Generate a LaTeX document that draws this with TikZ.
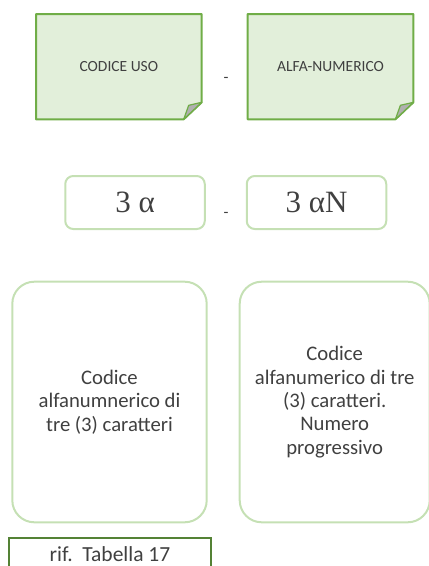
\documentclass[tikz,border=0pt]{standalone}
\usepackage{fontspec}
\setmainfont{Carlito}
\newfontfamily\greekfont{Liberation Serif}
\usetikzlibrary{calc, positioning, backgrounds}
\definecolor{leafgreen}{HTML}{70AD47}
\definecolor{leaffill}{HTML}{E2EFDA}
\definecolor{palegreen}{HTML}{C5E0B4}
\definecolor{darkgreen}{HTML}{548235}
\definecolor{inkgray}{HTML}{404040}
\definecolor{foldgray}{HTML}{B0B0B0}
\tikzstyle{notebox} = [rectangle, minimum width=165.7pt, minimum height=105.3pt, outer sep=0pt, text=inkgray, font=\fontsize{15.5}{18}\selectfont]
\tikzstyle{noteline} = [draw=leafgreen, fill=leaffill, line width=2pt, line join=round]
\tikzstyle{foldline} = [draw=leafgreen, fill=foldgray, line width=1.2pt, line join=round]
\tikzstyle{codebox} = [rectangle, draw=palegreen, line width=2pt, rounded corners=8pt, minimum width=139.5pt, minimum height=53pt, text=inkgray, font=\greekfont\fontsize{31}{34}\selectfont]
\tikzstyle{infobox} = [rectangle, draw=palegreen, line width=2pt, rounded corners=22pt, minimum height=240.6pt, align=center, text=inkgray, font=\fontsize{20.7}{23.4}\selectfont]
\tikzstyle{refbox} = [rectangle, draw=darkgreen, line width=2pt, minimum width=202pt, inner ysep=9pt, text depth=14pt, text=inkgray, font=\fontsize{21.5}{26}\selectfont]
\tikzstyle{sep} = [text=inkgray, inner sep=0pt, font=\fontsize{16}{18}\selectfont]
% folded-corner note drawn round a node
\newcommand{\dogear}[1]{%
  \path[noteline] (#1.north west) -- (#1.north east) -- ([yshift=17pt]#1.south east)
    -- ([xshift=-18pt]#1.south east) -- (#1.south west) -- cycle;
  \path[foldline] ([xshift=-18pt]#1.south east) -- ([xshift=-13pt,yshift=14pt]#1.south east)
    -- ([yshift=17pt]#1.south east) -- cycle;}

\begin{document}
\begin{tikzpicture}[x=1pt, y=-1pt, node distance=40pt, on grid=false]
\clip (0,0) rectangle (429,566);
% top row
\node [notebox] (uso) at (118.85,66.65) {CODICE USO};
\node [notebox, right=46pt of uso] (alfanum) {ALFA-NUMERICO};
\node [sep] (sepnote) at (226,80) {-};
\begin{scope}[on background layer]
\dogear{uso}
\dogear{alfanum}
\end{scope}
% middle row
\node [codebox] (tre) at (135,202.5) {3 α};
\node [codebox, right=40pt of tre] (trean) {3 αN};
\node [sep] (sepcode) at (226,215) {-};
% descriptions
\node [infobox, minimum width=194.4pt] (desc) at (109.5,402) {Codice\\alfanumnerico di\\tre (3) caratteri};
\node [infobox, minimum width=190pt, right=31pt of desc] (descprog) {Codice\\alfanumerico di tre\\(3) caratteri.\\Numero\\progressivo};
\node [refbox, anchor=north] (rif) at (110,537) {rif.\ \ Tabella 17};
\end{tikzpicture}
\end{document}
